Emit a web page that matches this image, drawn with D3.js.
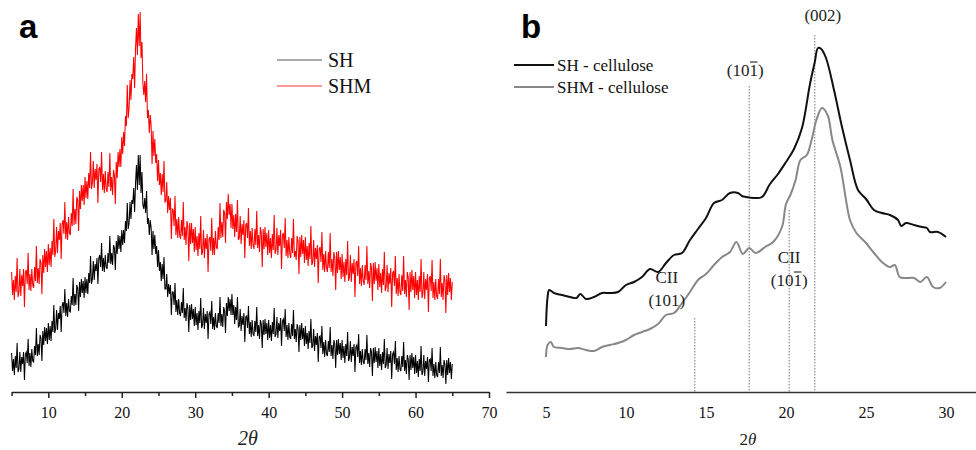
<!DOCTYPE html>
<html><head><meta charset="utf-8">
<script src="https://cdn.jsdelivr.net/npm/d3@7"></script>
<style>body{margin:0;background:#fff}svg{display:block}</style>
</head><body><svg id="c" width="976" height="450"></svg>
<script>
// ---------- Panel a: raw XRD patterns (2θ grid 5..65, step 0.125; one row per degree) ----------
const aStart = 5, aStep = 0.125;
const aSH = [
39,21,33,17,36,24,49,20, 23,40,20,35,28,40,12,38, 40,29,53,26,39,25,43,31, 30,46,37,64,36,48,37,57,
54,31,61,47,65,51,64,48, 69,52,66,51,71,60,87,59, 63,82,62,79,73,86,60,86, 90,79,103,76,89,75,93,81,
80,96,87,114,86,98,87,107, 104,81,110,95,113,99,111,94, 115,99,113,98,119,109,136,108, 113,131,112,128,121,134,108,134,
137,125,149,121,134,120,137,125, 123,139,129,156,128,139,127,147, 144,122,151,138,157,143,156,140, 162,147,162,149,171,161,189,163,
169,190,173,192,188,204,180,209, 227,202,237,207,237,199,220,187, 183,194,179,201,168,174,157,172, 164,137,161,143,157,138,146,125,
142,121,130,111,128,113,135,103, 103,118,95,108,98,107,77,100, 100,87,109,80,92,77,93,79, 76,90,79,104,74,84,71,89,
84,60,87,72,88,73,83,66, 85,67,79,62,81,69,94,64, 67,84,63,78,69,81,53,78, 80,68,91,63,75,62,79,66,
64,79,69,95,66,78,65,85, 81,59,89,76,95,81,93,77, 98,77,87,68,85,72,95,65, 66,83,61,76,67,79,50,75,
76,64,86,58,70,55,72,58, 56,71,60,85,56,67,53,72, 68,44,72,57,73,58,69,52, 72,54,67,51,70,58,84,55,
58,75,54,69,61,74,46,71, 73,61,83,55,67,52,69,55, 53,68,56,82,53,63,50,68, 64,40,67,52,69,53,64,46,
66,48,59,43,61,49,73,44, 46,63,41,56,47,59,30,55, 56,44,66,38,50,35,52,38, 36,51,40,65,36,47,33,52,
48,24,52,37,53,38,49,32, 52,34,46,29,48,36,60,31, 34,51,30,45,36,48,20,45, 47,35,58,29,41,27,43,30,
28,43,32,57,28,39,25,44, 40,16,44,29,45,30,41,24, 44,26,38,22,40,28,53,24, 27,44,23,38,29,41,13,38,
40,28,51,22,34,20,36,23, 21,36,25,50,21,32,18,37, 33,12,37,22,39,24,35,18, 37,19,31,15,33,21,46,17,
20,37,16,31,23,35,10,32, 33,21,44,16,28,14,30,17, 15,30,19,45,16,27,14,32, 28,8,32,17,34,19,30,13,
28];
const aSHM = [
120,97,112,92,116,100,134,95, 100,123,96,117,106,123,85,120, 122,108,139,102,118,101,123,107, 104,125,111,146,109,124,108,133,
129,98,137,119,143,125,141,120, 148,127,144,125,151,137,173,135, 141,165,139,161,152,169,133,168, 172,158,190,153,170,152,175,159,
157,179,166,203,167,183,168,195, 192,161,201,183,207,191,207,187, 215,194,211,193,219,204,240,203, 209,231,204,223,212,228,189,223,
225,210,240,202,218,199,221,203, 200,220,205,239,201,215,197,222, 217,188,230,214,240,225,243,225, 255,238,260,246,276,266,307,274,
284,312,292,318,313,335,304,344, 364,337,378,346,380,334,350,309, 297,311,290,318,274,282,259,277, 266,228,261,236,253,229,238,211,
232,207,219,197,218,200,231,190, 191,210,179,196,182,194,153,183, 182,166,196,157,173,154,175,157, 153,172,156,190,152,165,147,171,
165,131,169,148,169,149,163,140, 165,142,156,136,159,143,176,137, 140,162,134,154,143,158,120,153, 155,141,174,137,154,137,161,145,
143,165,152,189,154,170,155,182, 179,149,190,173,198,177,188,164, 188,163,177,155,178,160,192,152, 154,176,148,168,157,172,134,167,
169,154,184,146,161,143,164,147, 143,163,147,181,144,157,140,165, 159,125,163,143,165,145,159,137, 162,139,154,134,158,142,177,138,
142,164,137,157,146,162,123,157, 159,144,174,136,152,134,155,138, 134,154,139,173,135,141,132,156, 151,118,155,135,157,138,152,129,
155,132,146,126,149,133,166,127, 130,152,125,144,133,147,109,143, 145,130,160,122,138,120,141,124, 120,140,124,159,120,133,116,140,
135,102,140,119,141,122,135,113, 138,115,130,110,133,117,151,111, 115,137,110,129,118,133,95,129, 131,116,146,108,124,106,127,111,
107,127,112,146,108,121,104,129, 124,91,129,108,130,111,124,102, 128,105,119,99,123,107,140,101, 105,127,100,119,108,124,85,119,
121,106,136,98,114,96,118,100, 97,117,101,136,98,112,95,120, 115,82,120,100,122,102,116,94, 120,97,112,92,116,100,133,94,
98,120,93,113,102,118,80,114, 116,101,132,94,110,92,113,96, 93,113,98,133,95,109,92,117, 112,79,117,97,119,100,114,92,
110];
const aMajorTicks = [10,20,30,40,50,60,70];
const aMinorTicks = [5,15,25,35,45,55,65];
const aLegend = ["SH","SHM"];
const aColors = ["#000000","#ff0000"];
const aLegendColors = ["#555555","#ff3333"];

// ---------- Panel b: cellulose patterns ----------
const bAngSH = [5.0,5.1,5.2,5.5,6.0,6.5,6.9,7.15,7.5,8.0,8.5,9.0,9.5,10.0,10.5,11.0,11.5,12.0,12.5,13.0,13.5,14.0,14.5,15.0,15.5,16.0,16.5,17.0,17.25,17.5,18.0,18.5,19.0,19.5,20.0,20.5,21.0,21.5,21.8,22.0,22.2,22.5,23.0,23.5,24.0,24.5,25.0,25.5,26.0,26.5,27.0,27.2,27.5,28.0,28.5,28.8,29.0,29.5,30.0];
const bSH    = [66,95,102,99,97,95,94,98,93,95,99,99,100,107,110,115,123,120,129,137,139,152,163,174,189,192,199,199,196,195,194,195,208,218,230,243,264,308,330,344,343,334,302,265,232,202,193,182,179,177,172,166,169,167,165,164,160,160,155];
const bAngSHM = [5.0,5.1,5.3,5.5,6.0,6.5,7.0,7.5,8.0,8.5,9.0,9.5,10.0,10.5,11.0,11.5,12.0,12.5,13.0,13.5,14.0,14.5,15.0,15.5,16.0,16.5,16.9,17.3,17.7,18.1,18.7,19.2,19.75,20.0,20.3,20.6,20.9,21.3,21.6,21.9,22.25,22.6,22.9,23.4,23.75,24.0,24.4,25.0,25.5,26.0,26.5,26.8,27.1,27.5,28.0,28.4,28.8,29.2,29.6,30.0];
const bSHM    = [35,47,50,45,44,43,44,42,41,45,47,49,52,57,60,63,68,77,79,89,100,112,118,127,135,140,150,138,144,139,145,150,165,188,198,212,232,237,252,272,284,277,252,225,192,172,159,149,139,130,125,127,115,114,114,110,115,105,104,110];
const bTicks = [5,10,15,20,25,30];
const bLegend = ["SH - cellulose","SHM - cellulose"];
const bColors = ["#111111","#888888"];
const bRefAngles = [14.3,17.7,20.2,21.8];
const bRefTops   = [74,306,182,357];
// bar: index of the character carrying an overbar (-1 = none)
const bNotes = [
  {t:22.3,  v:371, lines:["(002)"], bar:[-1]},
  {t:17.45, v:316, lines:["(101)"], bar:[3]},
  {t:12.55, v:109, lines:["CII","(101)"], bar:[-1,-1]},
  {t:20.2,  v:129, lines:["CII","(101)"], bar:[-1,3]}
];

const svg = d3.select("#c");
const serif = "'Liberation Serif','Times New Roman',serif";
const sans = "'Liberation Sans',Arial,sans-serif";
const baseY = 392;

// ---------- Panel a ----------
const xA = d3.scaleLinear().domain([5,70]).range([11.6,489]);
const yA = d3.scaleLinear().domain([0,392]).range([baseY,0]);
const lineA = d3.line().x((d,i)=>xA(aStart+i*aStep)).y(d=>yA(d));
[aSH,aSHM].forEach((s,k)=>{
  svg.append("path").datum(s).attr("d",lineA).attr("fill","none")
    .attr("stroke",aColors[k]).attr("stroke-width",1.05).attr("stroke-linejoin","miter");
});
const gA = svg.append("g").attr("transform",`translate(0,${baseY})`);
gA.call(d3.axisBottom(xA).tickValues(aMajorTicks).tickSize(6).tickSizeOuter(0).tickPadding(9).tickFormat(d3.format("d")));
const gAm = svg.append("g").attr("transform",`translate(0,${baseY})`);
gAm.call(d3.axisBottom(xA).tickValues(aMinorTicks).tickSize(4).tickSizeOuter(0).tickFormat(""));
gAm.select(".domain").remove();
[gA,gAm].forEach(g=>{
  g.selectAll("path,line").attr("stroke","#222").attr("stroke-width",1.5);
  g.selectAll("text").attr("font-family",serif).attr("font-size",16).attr("fill","#111");
});
svg.append("text").attr("x",248).attr("y",445).attr("text-anchor","middle")
  .attr("font-family",serif).attr("font-style","italic").attr("font-size",20).attr("fill","#222").text("2θ");
svg.append("text").attr("x",19).attr("y",38).attr("font-family",sans).attr("font-weight","bold")
  .attr("font-size",33).attr("fill","#000").text("a");
aLegend.forEach((l,k)=>{
  const y = 60 + k*26;
  svg.append("line").attr("x1",277).attr("x2",322).attr("y1",y).attr("y2",y)
    .attr("stroke",aLegendColors[k]).attr("stroke-width",1);
  svg.append("text").attr("x",328).attr("y",y+7).attr("font-family",serif).attr("font-size",20)
    .attr("fill","#111").text(l);
});

// ---------- Panel b ----------
const xB = d3.scaleLinear().domain([2.5,31.875]).range([506,976]);
const yB = d3.scaleLinear().domain([0,392]).range([baseY,0]);
bRefAngles.forEach((a,k)=>{
  svg.append("line").attr("x1",xB(a)).attr("x2",xB(a)).attr("y1",yB(bRefTops[k])).attr("y2",yB(0))
    .attr("stroke","#777").attr("stroke-width",1).attr("stroke-dasharray","1.5,1.5");
});
const curveB = d3.line().x(d=>xB(d[0])).y(d=>yB(d[1])).curve(d3.curveCatmullRom.alpha(0.5));
[[bAngSH,bSH],[bAngSHM,bSHM]].forEach(([ang,val],k)=>{
  svg.append("path").datum(ang.map((a,i)=>[a,val[i]])).attr("d",curveB).attr("fill","none")
    .attr("stroke",bColors[k]).attr("stroke-width",2).attr("stroke-linejoin","round");
});
const gB = svg.append("g").attr("transform",`translate(0,${baseY})`);
gB.call(d3.axisBottom(xB).tickValues(bTicks).tickSize(0).tickSizeOuter(0).tickPadding(15).tickFormat(d3.format("d")));
gB.selectAll("path").attr("stroke","#333").attr("stroke-width",1.5);
gB.selectAll("text").attr("font-family",serif).attr("font-size",16).attr("fill","#111");
const tB = svg.append("text").attr("x",748).attr("y",445).attr("text-anchor","middle")
  .attr("font-family",serif).attr("font-size",17).attr("fill","#222");
tB.append("tspan").text("2");
tB.append("tspan").attr("font-style","italic").text("θ");
svg.append("text").attr("x",521).attr("y",38).attr("font-family",sans).attr("font-weight","bold")
  .attr("font-size",33).attr("fill","#000").text("b");
bLegend.forEach((l,k)=>{
  const y = 65 + k*22;
  svg.append("line").attr("x1",514).attr("x2",554).attr("y1",y).attr("y2",y)
    .attr("stroke",bColors[k]).attr("stroke-width",2);
  svg.append("text").attr("x",557).attr("y",y+6).attr("font-family",serif).attr("font-size",17)
    .attr("fill","#111").text(l);
});
bNotes.forEach(n=>{
  n.lines.forEach((s,j)=>{
    const by = yB(n.v)+j*23;
    const t = svg.append("text").attr("x",xB(n.t)).attr("y",by).attr("text-anchor","middle")
      .attr("font-family",serif).attr("font-size",17).attr("fill","#222").text(s);
    const bi = n.bar[j];
    if (bi >= 0) {
      const node = t.node();
      const p0 = node.getStartPositionOfChar(bi), p1 = node.getEndPositionOfChar(bi);
      svg.append("line").attr("x1",p0.x+0.5).attr("x2",p1.x-0.5).attr("y1",by-14).attr("y2",by-14)
        .attr("stroke","#222").attr("stroke-width",1.1);
    }
  });
});
</script></body></html>
